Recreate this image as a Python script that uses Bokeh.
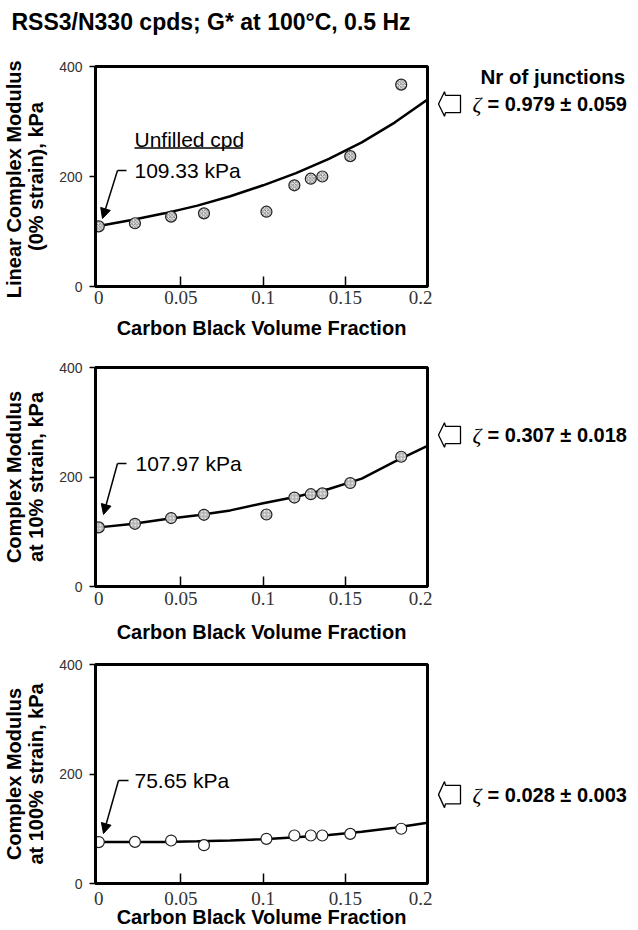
from bokeh.plotting import figure
from bokeh.layouts import column, row
from bokeh.models import (Range1d, FixedTicker, Label, Arrow, NormalHead)
from bokeh.core.properties import value
from bokeh.embed import file_html
from bokeh.resources import INLINE

# ---------------- data ----------------
cb_fraction = [0, 0.022, 0.044, 0.064, 0.102, 0.119, 0.129, 0.136, 0.153, 0.184]
g_0pct = [109.33, 115, 127, 133, 136, 184, 196, 200, 237, 367]
g_10pct = [107.97, 114.5, 125, 131, 131.5, 162.5, 168.6, 170, 189, 237]
g_100pct = [75.65, 76, 78.5, 70, 81.6, 87.7, 87.7, 87.7, 90.7, 100]

fit_x = [0, 0.02, 0.04, 0.06, 0.08, 0.1, 0.12, 0.14, 0.16, 0.18, 0.2]
fit_0pct = [110, 121, 133, 147, 164, 184, 206, 232, 262, 298, 340]
fit_10pct = [108, 114, 123, 130, 139, 152, 164, 178, 197, 228, 257]
fit_100pct = [75.6, 75.6, 76, 77, 78.5, 81, 84.5, 88.5, 94.5, 102, 111]

x_ticks = [0, 0.05, 0.1, 0.15, 0.2]
x_tick_labels = ["0", "0.05", "0.1", "0.15", "0.2"]
x_tick_marks = [0.05, 0.1, 0.15]
y_ticks = [0, 200, 400]

zeta_texts = ["= 0.979 \u00b1 0.059", "= 0.307 \u00b1 0.018", "= 0.028 \u00b1 0.003"]
unfilled_texts = ["109.33 kPa", "107.97 kPa", "75.65 kPa"]
y_labels = ["Linear  Complex Modulus\n(0% strain), kPa",
            "Complex Modulus\nat 10% strain, kPa",
            "Complex Modulus\nat 100% strain, kPa"]
title_text = "RSS3/N330 cpds; G* at 100\u00b0C, 0.5 Hz"
junction_title = "Nr of junctions"

X0, X1 = -0.002, 0.2
FRAME_W = 332
LEFT = 90
RIGHT = 5
TOTAL_W = 622
MAIN_W = LEFT + FRAME_W + RIGHT
SIDE_W = TOTAL_W - MAIN_W
SIDE_X0 = 8 + MAIN_W          # page x of the side panels
TITLE_H = 36
FONT = "Liberation Sans"

# page-pixel geometry of each panel (canvas y == page y)
panels = [
    dict(fig_top=TITLE_H, top=66, fh=220, bb=54, tick_so=4, lab_so=10,
         y=g_0pct, fit=fit_0pct, fill="#e6e6e6", hatch="x", hcol="#666666",
         zeta_y=88, val_y=170, tip=(105, 218), dash_x=(120, 129), text_x=137),
    dict(fig_top=340, top=366, fh=219, bb=60, tick_so=5, lab_so=13,
         y=g_10pct, fit=fit_10pct, fill="#b5b5b5", hatch="dot", hcol="#ffffff",
         zeta_y=434, val_y=462, tip=(106, 513), dash_x=(120, 129), text_x=138),
    dict(fig_top=645, top=663, fh=219, bb=40, tick_so=8, lab_so=-2,
         y=g_100pct, fit=fit_100pct, fill="#ffffff", hatch=None, hcol="#ffffff",
         zeta_y=815, val_y=779, tip=(106, 832), dash_x=(121, 131), text_x=137),
]


def bare_fig(w, h):
    f = figure(width=w, height=h, x_range=Range1d(0, w), y_range=Range1d(h, 0),
               output_backend="svg", toolbar_location=None,
               x_axis_type=None, y_axis_type=None,
               min_border_left=0, min_border_right=0,
               min_border_top=0, min_border_bottom=0,
               background_fill_color="white", border_fill_color="white")
    f.outline_line_color = None
    f.grid.visible = False
    return f


# ---- title strip ----
tfig = bare_fig(TOTAL_W, TITLE_H)
tfig.text(x=[11], y=[21], text=[title_text], text_font=value(FONT),
          text_font_style="bold", text_font_size="23px", text_color="black",
          text_align="left", text_baseline="middle")

rows = [tfig]
for i, cfg in enumerate(panels):
    top, fh = cfg["top"], cfg["fh"]
    bottom = top + fh
    bt = top - cfg["fig_top"]
    fig_h = bt + fh + cfg["bb"]

    def dx(px):
        return X0 + (px - 98) / FRAME_W * (X1 - X0)

    def dy(py, _b=bottom, _h=fh):
        return (_b - py) / _h * 400

    p = figure(frame_width=FRAME_W, frame_height=fh,
               x_range=Range1d(X0, X1), y_range=Range1d(0, 400),
               output_backend="svg", toolbar_location=None,
               min_border_left=LEFT, min_border_right=RIGHT,
               min_border_top=bt, min_border_bottom=cfg["bb"],
               background_fill_color="white", border_fill_color="white")
    p.grid.visible = False
    p.outline_line_color = "black"
    p.outline_line_width = 3

    # x axis
    xa = p.xaxis[0]
    xa.ticker = FixedTicker(ticks=x_ticks, minor_ticks=x_tick_marks)
    xa.major_label_overrides = {t: l for t, l in zip(x_ticks, x_tick_labels)}
    xa.major_tick_in = 0
    xa.major_tick_out = 0
    xa.minor_tick_in = 10
    xa.minor_tick_out = 0
    xa.minor_tick_line_width = 1.5
    xa.minor_tick_line_color = "black"
    xa.axis_line_width = 3
    xa.axis_line_color = "black"
    xa.major_label_text_font = "Liberation Serif"
    xa.major_label_text_font_size = "19px"
    xa.major_label_text_color = "#333333"
    xa.major_label_standoff = cfg["tick_so"]
    xa.axis_label = "Carbon Black Volume Fraction"
    xa.axis_label_text_font = FONT
    xa.axis_label_text_font_size = "20px"
    xa.axis_label_text_font_style = "bold"
    xa.axis_label_text_color = "black"
    xa.axis_label_standoff = cfg["lab_so"]

    # y axis
    ya = p.yaxis[0]
    ya.ticker = FixedTicker(ticks=y_ticks, minor_ticks=[])
    ya.major_tick_in = 0
    ya.major_tick_out = 6
    ya.major_tick_line_width = 1.5
    ya.major_tick_line_color = "black"
    ya.minor_tick_line_color = None
    ya.axis_line_width = 3
    ya.axis_line_color = "black"
    ya.major_label_text_font = FONT
    ya.major_label_text_font_size = "14px"
    ya.major_label_text_color = "#333333"
    ya.major_label_standoff = 7
    ya.axis_label = y_labels[i]
    ya.axis_label_text_font = FONT
    ya.axis_label_text_font_size = "20px"
    ya.axis_label_text_font_style = "bold"
    ya.axis_label_text_color = "black"
    ya.axis_label_text_line_height = 1.0
    ya.axis_label_standoff = 9

    # fitted curve and data points
    p.line(fit_x, cfg["fit"], line_color="black", line_width=2.5)
    kw = dict(size=11, fill_color=cfg["fill"], line_color="#222222", line_width=1.2)
    if cfg["hatch"]:
        kw.update(hatch_pattern=cfg["hatch"], hatch_color=cfg["hcol"],
                  hatch_scale=3.5, hatch_weight=0.8)
    p.scatter(cb_fraction, cfg["y"], marker="circle", **kw)

    # unfilled compound annotation
    p.add_layout(Label(x=dx(cfg["text_x"]), y=dy(cfg["val_y"]), text=unfilled_texts[i],
                       text_font=FONT, text_font_size="21px", text_color="black",
                       text_align="left", text_baseline="middle"))
    p.add_layout(Arrow(end=None, x_start=dx(cfg["dash_x"][0]), y_start=dy(cfg["val_y"]),
                       x_end=dx(cfg["dash_x"][1]), y_end=dy(cfg["val_y"]),
                       line_color="black", line_width=1.5))
    p.add_layout(Arrow(end=NormalHead(size=10, fill_color="black", line_color="black"),
                       x_start=dx(cfg["dash_x"][0]), y_start=dy(cfg["val_y"]),
                       x_end=dx(cfg["tip"][0]), y_end=dy(cfg["tip"][1]),
                       line_color="black", line_width=1.5))
    if i == 0:
        p.add_layout(Label(x=dx(137), y=dy(138.5), text="Unfilled cpd",
                           text_font=FONT, text_font_size="21px", text_color="black",
                           text_align="left", text_baseline="middle"))
        p.add_layout(Arrow(end=None, x_start=dx(137), y_start=dy(147.5),
                           x_end=dx(245), y_end=dy(147.5),
                           line_color="black", line_width=1.5))

    # ---- side panel: block arrow + zeta text ----
    s = bare_fig(SIDE_W, fig_h)
    ft = cfg["fig_top"]
    cy = cfg["zeta_y"] - ft
    pxs = [441, 447, 448, 463, 463, 448, 447]
    pys = [0, -17, -12, -12, 12, 12, 17]
    s.patch([v - SIDE_X0 for v in pxs], [cy + v for v in pys],
            fill_color="white", line_color="black", line_width=1.3)
    s.text(x=[475 - SIDE_X0], y=[cy + 1], text=["\u03b6"],
           text_font=value("Liberation Serif"), text_font_style="italic",
           text_font_size="22px", text_color="black",
           text_align="left", text_baseline="middle")
    s.text(x=[490 - SIDE_X0], y=[cy], text=[zeta_texts[i]],
           text_font=value(FONT), text_font_style="bold",
           text_font_size="20px", text_color="black",
           text_align="left", text_baseline="middle")
    if i == 0:
        s.text(x=[483 - SIDE_X0], y=[50 - ft], text=[junction_title],
               text_font=value(FONT), text_font_style="bold",
               text_font_size="20.5px", text_color="black",
               text_align="left", text_baseline="middle")

    rows.append(row(p, s, spacing=0))

layout = column(*rows, spacing=0)
open("out.html", "w").write(file_html(layout, INLINE))
